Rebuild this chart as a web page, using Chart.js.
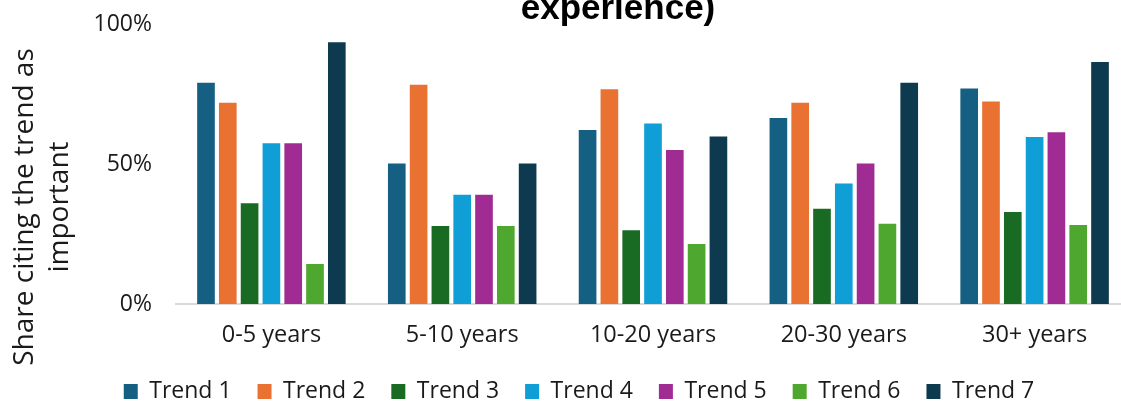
<!DOCTYPE html>
<html>
<head>
<meta charset="utf-8">
<script src="https://cdn.jsdelivr.net/npm/chart.js@4/dist/chart.umd.min.js"></script>
<style>
  html, body { margin: 0; padding: 0; background: #fff; overflow: hidden; }
  #wrap { position: relative; width: 1130px; height: 401px; }
</style>
</head>
<body>
<div id="wrap"><canvas id="chart"></canvas></div>
<script>
// Experience bands on the category axis
const categories = ['0-5 years', '5-10 years', '10-20 years', '20-30 years', '30+ years'];

// Share of respondents citing each trend as important (%)
const trend1 = [79.0, 50.2, 62.1, 66.4, 77.0];
const trend2 = [71.9, 78.3, 76.7, 71.9, 72.3];
const trend3 = [36.0, 27.9, 26.3, 34.0, 32.9];
const trend4 = [57.4, 39.0, 64.5, 43.0, 59.6];
const trend5 = [57.4, 39.0, 55.0, 50.2, 61.3];
const trend6 = [14.3, 27.9, 21.4, 28.7, 28.2];
const trend7 = [93.5, 50.2, 59.8, 79.0, 86.4];

const seriesNames = ['Trend 1', 'Trend 2', 'Trend 3', 'Trend 4', 'Trend 5', 'Trend 6', 'Trend 7'];
const seriesValues = [trend1, trend2, trend3, trend4, trend5, trend6, trend7];
const seriesColors = ['#156082', '#E97132', '#196B24', '#0F9ED5', '#A02B93', '#4EA72E', '#0E3A4F'];

const yTicks = [0, 50, 100];
const titleTail = 'experience)';
const yTitleLines = ['Share citing the trend as', 'important'];

const FONT = '"Open Sans", "Liberation Sans", Arial, sans-serif';

// Heading (bold, partially above the top edge) and rotated y-axis title
const textPlugin = {
  id: 'textPlugin',
  afterDraw(chart) {
    const ctx = chart.ctx;
    ctx.save();
    ctx.fillStyle = '#000';
    ctx.font = 'bold 35px "Liberation Sans", Arial, sans-serif';
    ctx.textAlign = 'center';
    ctx.textBaseline = 'alphabetic';
    ctx.fillText(titleTail, 618, 19);

    ctx.font = '28px ' + FONT;
    ctx.fillStyle = '#1a1a1a';
    const xs = [33, 68];
    yTitleLines.forEach((line, i) => {
      ctx.save();
      ctx.translate(xs[i], 207);
      ctx.rotate(-Math.PI / 2);
      ctx.fillText(line, 0, 0);
      ctx.restore();
    });
    ctx.restore();
  }
};

new Chart(document.getElementById('chart'), {
  type: 'bar',
  data: {
    labels: categories,
    datasets: seriesNames.map((name, i) => ({
      label: name,
      data: seriesValues[i],
      backgroundColor: seriesColors[i],
      borderWidth: 0,
      categoryPercentage: 0.8,
      barPercentage: 0.81
    }))
  },
  options: {
    responsive: true,
    maintainAspectRatio: false,
    animation: false,
    layout: { padding: { top: 24, left: 28, right: 0, bottom: -12 } },
    plugins: {
      title: { display: false },
      tooltip: { enabled: false },
      legend: {
        position: 'bottom',
        align: 'center',
        labels: {
          boxWidth: 14,
          boxHeight: 15,
          padding: 26,
          color: '#1a1a1a',
          font: { family: FONT, size: 23 }
        }
      }
    },
    scales: {
      x: {
        type: 'category',
        grid: { display: false, drawTicks: false },
        border: { display: true, color: '#d9d9d9', width: 2 },
        afterFit(scale) { scale.height = 50; },
        ticks: {
          color: '#1a1a1a',
          font: { family: FONT, size: 23.5 },
          padding: 17,
          maxRotation: 0,
          autoSkip: false
        }
      },
      y: {
        min: 0,
        max: 100,
        grid: { display: false, drawTicks: false },
        border: { display: false },
        afterBuildTicks(scale) {
          scale.ticks = yTicks.map(v => ({ value: v }));
        },
        afterFit(scale) {
          scale.width = 148;
          scale.paddingTop = 0;
          scale.paddingBottom = 0;
        },
        ticks: {
          color: '#1a1a1a',
          font: { family: FONT, size: 23 },
          padding: 24,
          callback: v => v + '%'
        }
      }
    }
  },
  plugins: [textPlugin]
});
</script>
</body>
</html>
